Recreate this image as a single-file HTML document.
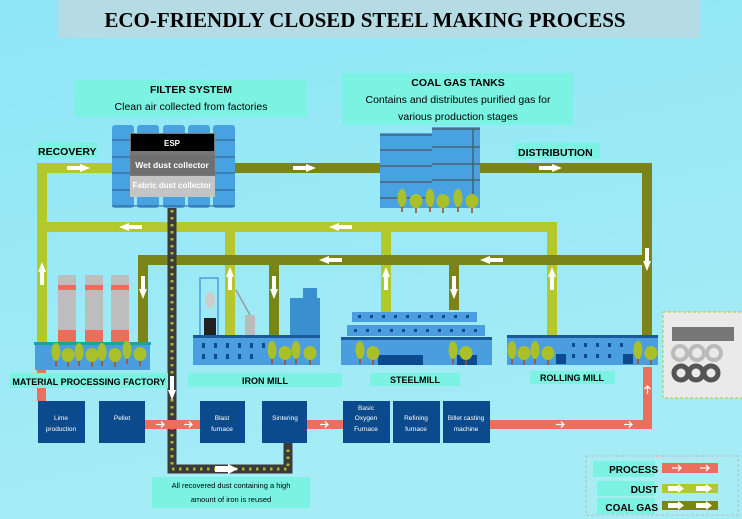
<!DOCTYPE html>
<html><head><meta charset="utf-8"><style>
html,body{margin:0;padding:0;width:742px;height:519px;overflow:hidden;background:#8fe4f4}
svg{display:block;font-family:"Liberation Sans",sans-serif}
</style></head><body>
<svg width="742" height="519" viewBox="0 0 742 519" xmlns="http://www.w3.org/2000/svg">
<defs>
<linearGradient id="bg" x1="0" y1="0" x2="0.3" y2="1"><stop offset="0" stop-color="#8ee6f6"/><stop offset="1" stop-color="#a6ecf6"/></linearGradient>
<g id="tree"><rect x="-0.8" y="6" width="1.6" height="8" fill="#a0522d"/><ellipse cx="0" cy="0" rx="4.5" ry="9" fill="#a9c02a"/></g>
<g id="tree2"><rect x="-0.8" y="4" width="1.6" height="8" fill="#a0522d"/><ellipse cx="0" cy="0" rx="6.5" ry="7" fill="#a9c02a"/></g>
</defs>
<rect width="742" height="519" fill="url(#bg)"/>
<!-- title -->
<rect x="58" y="0" width="642" height="38" fill="#b5dce4"/>
<text x="365" y="27" text-anchor="middle" font-family="Liberation Serif,serif" font-weight="bold" font-size="21" fill="#000">ECO-FRIENDLY CLOSED STEEL MAKING PROCESS</text>
<!-- labels -->
<rect x="75" y="80" width="232" height="37" fill="#7cf2e2"/>
<text x="191" y="93" text-anchor="middle" font-weight="bold" font-size="10.5">FILTER SYSTEM</text>
<text x="191" y="110" text-anchor="middle" font-size="10.5">Clean air collected from factories</text>
<rect x="342" y="73" width="231" height="52" fill="#7cf2e2"/>
<text x="458" y="86" text-anchor="middle" font-weight="bold" font-size="10.5">COAL GAS TANKS</text>
<text x="458" y="103" text-anchor="middle" font-size="10.5">Contains and distributes purified gas for</text>
<text x="458" y="120" text-anchor="middle" font-size="10.5">various production stages</text>
<rect x="36" y="142" width="61" height="16" fill="#7cf2e2"/>
<text x="38" y="155" font-weight="bold" font-size="10.5">RECOVERY</text>
<rect x="515" y="143" width="85" height="16" fill="#7cf2e2"/>
<text x="518" y="156" font-weight="bold" font-size="10.5">DISTRIBUTION</text>
<!-- dust pipes -->
<g fill="#b4c82e">
<rect x="37" y="163" width="10" height="182"/>
<rect x="37" y="163" width="80" height="10"/>
<rect x="37" y="222" width="520" height="10"/>
<rect x="547" y="222" width="10" height="113"/>
<rect x="225" y="222" width="10" height="113"/>
<rect x="381" y="222" width="10" height="95"/>
</g>
<!-- coal gas pipes -->
<g fill="#7b8417">
<rect x="230" y="163" width="422" height="10"/>
<rect x="642" y="163" width="10" height="172"/>
<rect x="138" y="255" width="514" height="10"/>
<rect x="138" y="255" width="10" height="88"/>
<rect x="269" y="255" width="10" height="80"/>
<rect x="449" y="255" width="10" height="55"/>
</g>
<!-- arrows -->
<g fill="#fff">
<polygon points="67,166 80,166 80,164 90,168 80,172 80,170 67,170"/>
<polygon points="293,166 306,166 306,164 316,168 306,172 306,170 293,170"/>
<polygon points="539,166 552,166 552,164 562,168 552,172 552,170 539,170"/>
<polygon points="142,225 129,225 129,223 119,227 129,231 129,229 142,229"/>
<polygon points="352,225 339,225 339,223 329,227 339,231 339,229 352,229"/>
<polygon points="503,258 490,258 490,256 480,260 490,264 490,262 503,262"/>
<polygon points="342,258 329,258 329,256 319,260 329,264 329,262 342,262"/>
<polygon points="40,285 40,272 38,272 42,262 46,272 44,272 44,285"/>
<polygon points="228,290 228,277 226,277 230,267 234,277 232,277 232,290"/>
<polygon points="384,290 384,277 382,277 386,267 390,277 388,277 388,290"/>
<polygon points="550,290 550,277 548,277 552,267 556,277 554,277 554,290"/>
<polygon points="141,276 141,289 139,289 143,299 147,289 145,289 145,276"/>
<polygon points="272,276 272,289 270,289 274,299 278,289 276,289 276,276"/>
<polygon points="452,276 452,289 450,289 454,299 458,289 456,289 456,276"/>
<polygon points="645,248 645,261 643,261 647,271 651,261 649,261 649,248"/>
</g>
<!-- filter tanks -->
<g fill="#48a2e2">
<rect x="112" y="125" width="22" height="83" rx="3"/><rect x="137" y="125" width="22" height="83" rx="3"/><rect x="163" y="125" width="22" height="83" rx="3"/><rect x="188" y="125" width="22" height="83" rx="3"/><rect x="213" y="125" width="22" height="83" rx="3"/>
</g>
<g stroke="#2b5f8a" stroke-width="1"><line x1="112" y1="140" x2="235" y2="140"/><line x1="112" y1="157" x2="235" y2="157"/><line x1="112" y1="173" x2="235" y2="173"/><line x1="112" y1="190" x2="235" y2="190"/><line x1="112" y1="206" x2="235" y2="206"/></g>
<rect x="130" y="133" width="85" height="64" fill="#777"/>
<rect x="131" y="134" width="83" height="17" fill="#000"/>
<text x="172" y="146" text-anchor="middle" font-weight="bold" font-size="8" fill="#fff">ESP</text>
<rect x="131" y="155" width="83" height="20" fill="#6f6f6f"/>
<text x="172" y="168" text-anchor="middle" font-weight="bold" font-size="8.5" fill="#fff">Wet dust collector</text>
<rect x="130" y="176" width="85" height="21" fill="#c4c4c4"/>
<text x="172" y="188" text-anchor="middle" font-weight="bold" font-size="8" fill="#fff">Fabric dust collector</text>
<!-- coal gas tanks -->
<rect x="380" y="133" width="55" height="75" fill="#48a2e2"/>
<rect x="432" y="127" width="48" height="81" fill="#48a2e2"/>
<g stroke="#4a5560" stroke-width="1.3"><line x1="380" y1="135" x2="432" y2="135"/><line x1="380" y1="150" x2="432" y2="150"/><line x1="380" y1="166" x2="432" y2="166"/><line x1="380" y1="182" x2="432" y2="182"/><line x1="380" y1="198" x2="432" y2="198"/><line x1="432" y1="129" x2="480" y2="129"/><line x1="432" y1="147" x2="480" y2="147"/><line x1="432" y1="164" x2="480" y2="164"/><line x1="432" y1="180" x2="480" y2="180"/><line x1="473" y1="129" x2="473" y2="198"/></g>
<use href="#tree" x="402" y="198"/><use href="#tree2" x="416" y="201"/><use href="#tree" x="430" y="198"/><use href="#tree2" x="443" y="201"/><use href="#tree" x="458" y="198"/><use href="#tree2" x="472" y="201"/>
<!-- dust belt -->
<path d="M172 208 V469 H288 V443" fill="none" stroke="#3a3a3a" stroke-width="9"/>
<path d="M172 210 V469 H288 V445" fill="none" stroke="#a9b82a" stroke-width="3" stroke-dasharray="2.5 4.5"/>
<polygon points="215,466 228,466 228,464 238,469 228,474 228,472 215,472" fill="#fff"/>
<!-- process line -->
<g fill="#ea6f5d"><rect x="37" y="345" width="9" height="56"/><rect x="145" y="420" width="55" height="9"/><rect x="307" y="420" width="36" height="9"/><rect x="490" y="420" width="162" height="9"/><rect x="643" y="367" width="9" height="62"/></g>
<g stroke="#fff" stroke-width="1.3" fill="none"><path d="M156 424.5h8m-3-3 3 3-3 3"/><path d="M184 424.5h8m-3-3 3 3-3 3"/><path d="M320 424.5h8m-3-3 3 3-3 3"/><path d="M556 424.5h8m-3-3 3 3-3 3"/><path d="M624 424.5h8m-3-3 3 3-3 3"/><path d="M647.5 394v-8m-3 3 3-3 3 3"/></g>
<!-- factory -->
<g>
<rect x="58" y="275" width="18" height="68" fill="#bdbdbd"/><rect x="85" y="275" width="18" height="68" fill="#bdbdbd"/><rect x="111" y="275" width="18" height="68" fill="#bdbdbd"/>
<g fill="#ef6b5a"><rect x="58" y="285" width="18" height="5"/><rect x="85" y="285" width="18" height="5"/><rect x="111" y="285" width="18" height="5"/><rect x="58" y="330" width="18" height="13"/><rect x="85" y="330" width="18" height="13"/><rect x="111" y="330" width="18" height="13"/></g>
<rect x="34" y="342" width="117" height="3" fill="#1aa39a"/>
<rect x="35" y="345" width="115" height="25" fill="#4a9ee0"/>
<use href="#tree" x="56" y="352"/><use href="#tree2" x="68" y="355"/><use href="#tree" x="79" y="352"/><use href="#tree2" x="92" y="355"/><use href="#tree" x="102" y="352"/><use href="#tree2" x="115" y="355"/><use href="#tree" x="127" y="350"/><use href="#tree2" x="140" y="354"/>
</g>
<!-- iron mill -->
<g>
<rect x="200" y="278" width="18" height="60" fill="none" stroke="#4a9ee0" stroke-width="1.5"/>
<rect x="204" y="318" width="12" height="18" fill="#222"/>
<ellipse cx="210" cy="300" rx="5" ry="8" fill="#ccc"/>
<line x1="236" y1="290" x2="250" y2="315" stroke="#999" stroke-width="1.5"/><rect x="245" y="315" width="10" height="20" fill="#bbb"/>
<rect x="290" y="298" width="30" height="62" fill="#3a8fcf"/><rect x="303" y="288" width="14" height="12" fill="#3a8fcf"/>
<rect x="193" y="335" width="127" height="30" fill="#4a9ee0"/><rect x="193" y="335" width="127" height="3" fill="#1a5a9a"/>
<g fill="#0b4a8c"><rect x="202" y="343" width="3" height="5"/><rect x="214" y="343" width="3" height="5"/><rect x="226" y="343" width="3" height="5"/><rect x="238" y="343" width="3" height="5"/><rect x="250" y="343" width="3" height="5"/><rect x="262" y="343" width="3" height="5"/><rect x="202" y="354" width="3" height="5"/><rect x="214" y="354" width="3" height="5"/><rect x="226" y="354" width="3" height="5"/><rect x="238" y="354" width="3" height="5"/><rect x="250" y="354" width="3" height="5"/></g>
<use href="#tree" x="272" y="350"/><use href="#tree2" x="285" y="353"/><use href="#tree" x="296" y="350"/><use href="#tree2" x="310" y="353"/>
</g>
<!-- steel mill -->
<g>
<rect x="352" y="312" width="125" height="10" fill="#4a9ee0"/>
<rect x="347" y="325" width="138" height="11" fill="#4a9ee0"/>
<rect x="341" y="337" width="151" height="28" fill="#4a9ee0"/><rect x="341" y="337" width="151" height="3" fill="#1a5a9a"/>
<rect x="378" y="355" width="45" height="10" fill="#0b4a8c"/><rect x="457" y="355" width="20" height="10" fill="#0b4a8c"/>
<g fill="#0b4a8c"><rect x="358" y="315" width="3" height="3"/><rect x="370" y="315" width="3" height="3"/><rect x="382" y="315" width="3" height="3"/><rect x="394" y="315" width="3" height="3"/><rect x="406" y="315" width="3" height="3"/><rect x="418" y="315" width="3" height="3"/><rect x="430" y="315" width="3" height="3"/><rect x="442" y="315" width="3" height="3"/><rect x="454" y="315" width="3" height="3"/><rect x="466" y="315" width="3" height="3"/>
<rect x="354" y="329" width="3" height="3"/><rect x="366" y="329" width="3" height="3"/><rect x="378" y="329" width="3" height="3"/><rect x="390" y="329" width="3" height="3"/><rect x="402" y="329" width="3" height="3"/><rect x="414" y="329" width="3" height="3"/><rect x="426" y="329" width="3" height="3"/><rect x="438" y="329" width="3" height="3"/><rect x="450" y="329" width="3" height="3"/><rect x="462" y="329" width="3" height="3"/><rect x="474" y="329" width="3" height="3"/></g>
<use href="#tree" x="360" y="350"/><use href="#tree2" x="373" y="353"/><use href="#tree" x="453" y="350"/><use href="#tree2" x="466" y="353"/>
</g>
<!-- rolling mill -->
<g>
<rect x="507" y="335" width="151" height="30" fill="#4a9ee0"/><rect x="507" y="335" width="151" height="3" fill="#1a5a9a"/>
<rect x="556" y="354" width="10" height="10" fill="#0b4a8c"/><rect x="623" y="354" width="10" height="10" fill="#0b4a8c"/>
<g fill="#0b4a8c"><rect x="572" y="343" width="3" height="4"/><rect x="584" y="343" width="3" height="4"/><rect x="596" y="343" width="3" height="4"/><rect x="608" y="343" width="3" height="4"/><rect x="620" y="343" width="3" height="4"/><rect x="572" y="354" width="3" height="4"/><rect x="584" y="354" width="3" height="4"/><rect x="596" y="354" width="3" height="4"/><rect x="608" y="354" width="3" height="4"/></g>
<use href="#tree" x="512" y="350"/><use href="#tree2" x="524" y="353"/><use href="#tree" x="535" y="350"/><use href="#tree2" x="548" y="353"/><use href="#tree" x="638" y="350"/><use href="#tree2" x="651" y="353"/>
</g>
<!-- products -->
<rect x="663" y="312" width="82" height="86" fill="#eaeaea" stroke="#b4c82e" stroke-dasharray="3 2"/>
<rect x="672" y="327" width="62" height="14" fill="#777"/>
<g fill="none" stroke="#bbb" stroke-width="4"><ellipse cx="680" cy="353" rx="7" ry="7"/><ellipse cx="697" cy="353" rx="7" ry="7"/><ellipse cx="714" cy="353" rx="7" ry="7"/></g>
<g fill="none" stroke="#555" stroke-width="5"><circle cx="681" cy="373" r="7"/><circle cx="696" cy="373" r="7"/><circle cx="711" cy="373" r="7"/></g>
<!-- section labels -->
<g fill="#7cf2e2"><rect x="10" y="373" width="158" height="15"/><rect x="188" y="373" width="154" height="14"/><rect x="370" y="373" width="90" height="13"/><rect x="530" y="371" width="85" height="13"/><rect x="152" y="477" width="158" height="31"/></g>
<g font-weight="bold" font-size="9" text-anchor="middle"><text x="89" y="385">MATERIAL PROCESSING  FACTORY</text><text x="265" y="384">IRON MILL</text><text x="415" y="383">STEELMILL</text><text x="572" y="381">ROLLING MILL</text></g>
<polygon points="170,376 170,390 168,390 172,400 176,390 174,390 174,376" fill="#fff"/>
<text x="231" y="488" text-anchor="middle" font-size="7.5">All recovered dust containing a high</text>
<text x="231" y="502" text-anchor="middle" font-size="7.5">amount of iron is reused</text>
<!-- process boxes -->
<g fill="#0b4a8c"><rect x="38" y="401" width="47" height="42"/><rect x="99" y="401" width="46" height="42"/><rect x="200" y="401" width="45" height="42"/><rect x="262" y="401" width="45" height="42"/><rect x="343" y="401" width="47" height="42"/><rect x="393" y="401" width="47" height="42"/><rect x="443" y="401" width="47" height="42"/></g>
<g fill="#fff" font-size="6.5" text-anchor="middle">
<text x="61" y="420">Lime</text><text x="61" y="431">production</text>
<text x="122" y="420">Pellet</text>
<text x="222" y="420">Blast</text><text x="222" y="431">furnace</text>
<text x="285" y="420">Sintering</text>
<text x="366" y="410">Basic</text><text x="366" y="420">Oxygen</text><text x="366" y="431">Furnace</text>
<text x="416" y="420">Refining</text><text x="416" y="431">furnace</text>
<text x="466" y="420">Billet casting</text><text x="466" y="431">machine</text>
</g>
<!-- legend -->
<rect x="586" y="456" width="152" height="59" fill="#a8ecf4" stroke="#bbb" stroke-dasharray="3 2"/>
<g fill="#7cf2e2"><rect x="593" y="461" width="62" height="16"/><rect x="597" y="481" width="58" height="15"/><rect x="597" y="498" width="58" height="16"/></g>
<g font-weight="bold" font-size="10" text-anchor="end"><text x="658" y="473">PROCESS</text><text x="658" y="493">DUST</text><text x="658" y="511">COAL GAS</text></g>
<rect x="662" y="463" width="56" height="10" fill="#ea6f5d"/>
<rect x="662" y="484" width="56" height="9" fill="#b4c82e"/>
<rect x="662" y="501" width="56" height="9" fill="#7b8417"/>
<g stroke="#fff" stroke-width="1.3" fill="none"><path d="M672 468h9m-3-3 3 3-3 3"/><path d="M700 468h9m-3-3 3 3-3 3"/></g>
<g fill="#fff"><polygon points="668,486 678,486 678,484 684,488.5 678,493 678,491 668,491"/><polygon points="696,486 706,486 706,484 712,488.5 706,493 706,491 696,491"/><polygon points="668,503 678,503 678,501 684,505.5 678,510 678,508 668,508"/><polygon points="696,503 706,503 706,501 712,505.5 706,510 706,508 696,508"/></g>
</svg>
</body></html>
